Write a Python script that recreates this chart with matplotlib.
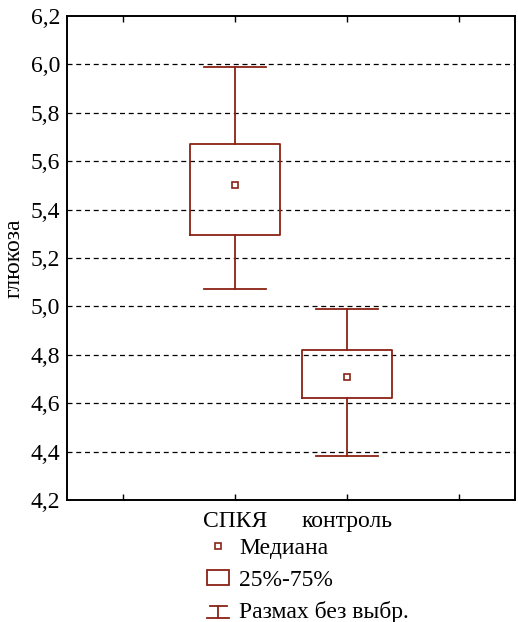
import matplotlib.pyplot as plt
from matplotlib.lines import Line2D
from matplotlib.patches import Patch
from matplotlib.legend_handler import HandlerBase

groups = ['СПКЯ', 'контроль']
positions = [2, 3]
whisker_low = [5.07, 4.38]
q1 = [5.295, 4.62]
median = [5.50, 4.71]
q3 = [5.67, 4.82]
whisker_high = [5.99, 4.99]

y_ticks = [4.2, 4.4, 4.6, 4.8, 5.0, 5.2, 5.4, 5.6, 5.8, 6.0, 6.2]
legend_labels = ['Медиана', '25%-75%', 'Размах без выбр.']

red = '#8b2216'
plt.rcParams['font.family'] = ['Liberation Serif', 'DejaVu Serif']


class WhiskerHandler(HandlerBase):
    def create_artists(self, legend, orig_handle, xd, yd, width, height, fontsize, trans):
        cx = xd + width / 2
        top = yd + 0.85 * height
        bot = yd + 0.1 * height
        lines = [
            Line2D([cx - width * 0.38, cx + width * 0.38], [top, top]),
            Line2D([cx, cx], [bot, top]),
            Line2D([xd, xd + width], [bot, bot]),
        ]
        for l in lines:
            l.set_color(red)
            l.set_linewidth(1.3)
            l.set_transform(trans)
        return lines


fig = plt.figure(figsize=(5.18, 6.22), dpi=100)
ax = fig.add_axes([67 / 518, 1 - 500 / 622, 448 / 518, 484 / 622])

stats = []
for i, g in enumerate(groups):
    stats.append({'label': g, 'whislo': whisker_low[i], 'q1': q1[i], 'med': median[i],
                  'q3': q3[i], 'whishi': whisker_high[i], 'fliers': []})

ax.bxp(stats, positions=positions, widths=0.8, capwidths=0.55, showfliers=False,
       boxprops=dict(color=red, linewidth=1.3),
       whiskerprops=dict(color=red, linewidth=1.3),
       capprops=dict(color=red, linewidth=1.3),
       medianprops=dict(visible=False))
ax.plot(positions, median, linestyle='none', marker='s', markersize=5,
        markerfacecolor='white', markeredgecolor=red, markeredgewidth=1.2)

ax.set_xlim(0.5, 4.5)
ax.set_ylim(4.2, 6.2)
ax.set_xticks([1, 2, 3, 4])
ax.set_xticklabels(['', groups[0], groups[1], ''], fontsize=17)
ax.set_yticks(y_ticks)
ax.set_yticklabels([f'{v:.1f}'.replace('.', ',') for v in y_ticks], fontsize=17)
ax.tick_params(axis='x', direction='in', length=4, top=True, pad=8, width=1)
ax.tick_params(axis='y', length=0, pad=5)
for y in y_ticks[1:-1]:
    ax.axhline(y, color='black', linestyle=(0, (4, 3)), linewidth=0.9, zorder=0)
for s in ax.spines.values():
    s.set_linewidth(1.4)
ax.set_ylabel('глюкоза', fontsize=17, labelpad=4)

handles = [
    Line2D([], [], linestyle='none', marker='s', markersize=5,
           markerfacecolor='white', markeredgecolor=red, markeredgewidth=1.2),
    Patch(facecolor='white', edgecolor=red, linewidth=1.3),
    'whisker',
]
leg = fig.legend(handles, legend_labels, loc='upper left',
                 bbox_to_anchor=(207 / 518, 1 - 538 / 622), frameon=False,
                 fontsize=17, handlelength=0.95, handleheight=0.6,
                 handletextpad=0.42, labelspacing=0.45, borderpad=0,
                 borderaxespad=0, handler_map={str: WhiskerHandler()})
fig.savefig('out.png', dpi=100)
